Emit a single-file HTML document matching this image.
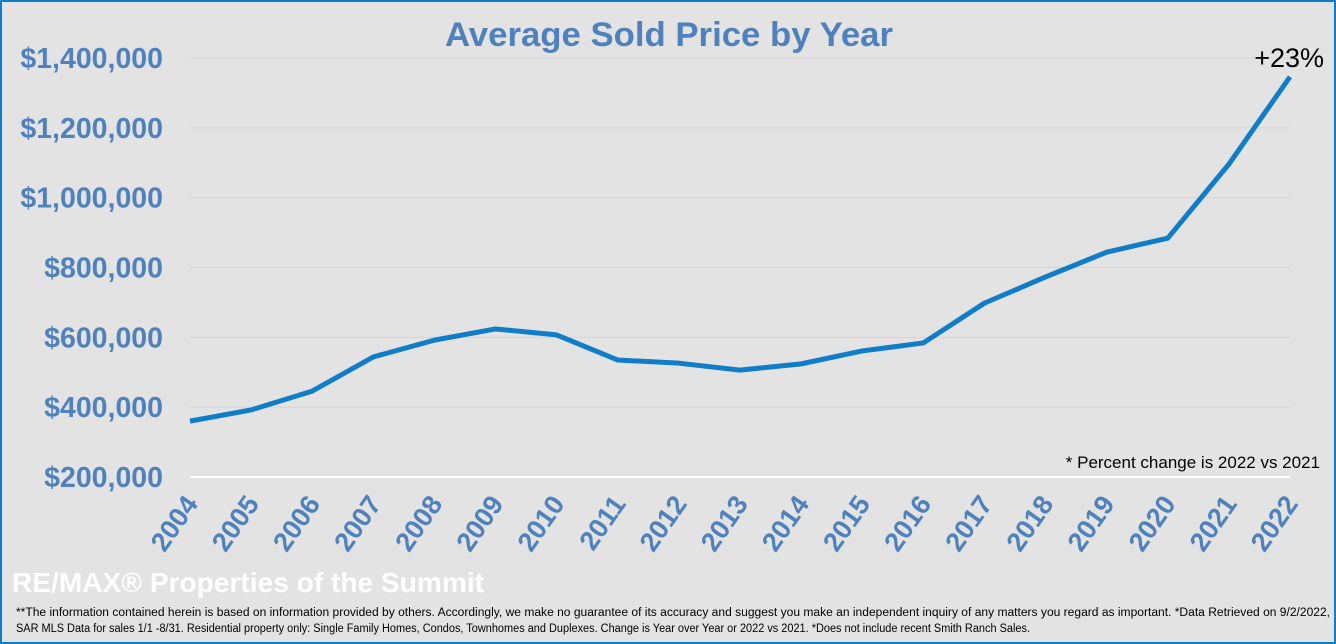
<!DOCTYPE html>
<html><head><meta charset="utf-8"><style>
html,body{margin:0;padding:0;background:#fff}
#wrap{position:relative;width:1332px;height:640px;border:2px solid #0f7dc8;background:#e3e3e3;overflow:hidden}
svg{position:absolute;left:0;top:0}
</style></head><body>
<div id="wrap">
<svg id="chart" width="1332" height="640">
<text x="14" y="614" font-family="Liberation Sans, sans-serif" font-size="11.5" textLength="1314" lengthAdjust="spacingAndGlyphs">**The information contained herein is based on information provided by others. Accordingly, we make no guarantee of its accuracy and suggest you make an independent inquiry of any matters you regard as important. *Data Retrieved on 9/2/2022,</text>
<text x="14" y="630" font-family="Liberation Sans, sans-serif" font-size="11.5" textLength="1014" lengthAdjust="spacingAndGlyphs">SAR MLS Data for sales 1/1 -8/31. Residential property only: Single Family Homes, Condos, Townhomes and Duplexes. Change is Year over Year or 2022 vs 2021. *Does not include recent Smith Ranch Sales.</text>
</svg>
</div>
<script>
const years=["2004","2005","2006","2007","2008","2009","2010","2011","2012","2013","2014","2015","2016","2017","2018","2019","2020","2021","2022"];
const prices=[360000,392000,446000,544000,592000,624000,607000,535000,526000,506000,524000,561000,584000,698000,773000,844000,884000,1096000,1346000];
const yTicks=[200000,400000,600000,800000,1000000,1200000,1400000];
const yTickLabels=["$200,000","$400,000","$600,000","$800,000","$1,000,000","$1,200,000","$1,400,000"];
const NS="http://www.w3.org/2000/svg";
const svg=document.getElementById('chart');
const x0=188,x1=1288,yb=475,yt=56;
const xs=i=>x0+(x1-x0)*i/(years.length-1);
const ys=v=>yb-(v-200000)/1200000*(yb-yt);
function mk(t,a){const e=document.createElementNS(NS,t);for(const k in a)e.setAttribute(k,a[k]);svg.appendChild(e);return e;}
yTicks.forEach((v,i)=>{
  const g=mk('line',{x1:x0,x2:x1,y1:ys(v),y2:ys(v),stroke:i==0?'#ffffff':'#d4d4d4','stroke-width':i==0?2:1});
  
  
  const t=mk('text',{x:161,y:ys(v)+10,'text-anchor':'end','font-family':'Liberation Sans, sans-serif','font-size':28.5,'font-weight':'bold',fill:'#4f81bd'});
  t.textContent=yTickLabels[i];
  
  
});
years.forEach((y,i)=>{
  const t=mk('text',{transform:`translate(${xs(i)+9},${yb+27}) rotate(-55)`,'text-anchor':'end','font-family':'Liberation Sans, sans-serif','font-size':27,'font-weight':'bold',fill:'#4f81bd'});
  t.textContent=y;
  
  
});
const p=mk('polyline',{points:prices.map((v,i)=>xs(i)+','+ys(v)).join(' '),fill:'none',stroke:'#0f7dc8','stroke-width':5,'stroke-linejoin':'round'});


const tt=mk('text',{x:667,y:44,'text-anchor':'middle','font-family':'Liberation Sans, sans-serif','font-size':34,'font-weight':'bold',fill:'#4f81bd',textLength:448,lengthAdjust:'spacingAndGlyphs'});
tt.textContent='Average Sold Price by Year';


const pc=mk('text',{x:1322,y:65,'text-anchor':'end','font-family':'Liberation Sans, sans-serif','font-size':27,fill:'#000'});
pc.textContent='+23%';


const nt=mk('text',{x:1318,y:466,'text-anchor':'end','font-family':'Liberation Sans, sans-serif','font-size':17,fill:'#000'});
nt.textContent='* Percent change is 2022 vs 2021';


const lg=mk('text',{x:10,y:590,'font-family':'Liberation Sans, sans-serif','font-size':28,'font-weight':'bold',fill:'#ffffff',textLength:472,lengthAdjust:'spacingAndGlyphs'});
lg.textContent='RE/MAX\u00AE Properties of the Summit';


</script>
</body></html>
